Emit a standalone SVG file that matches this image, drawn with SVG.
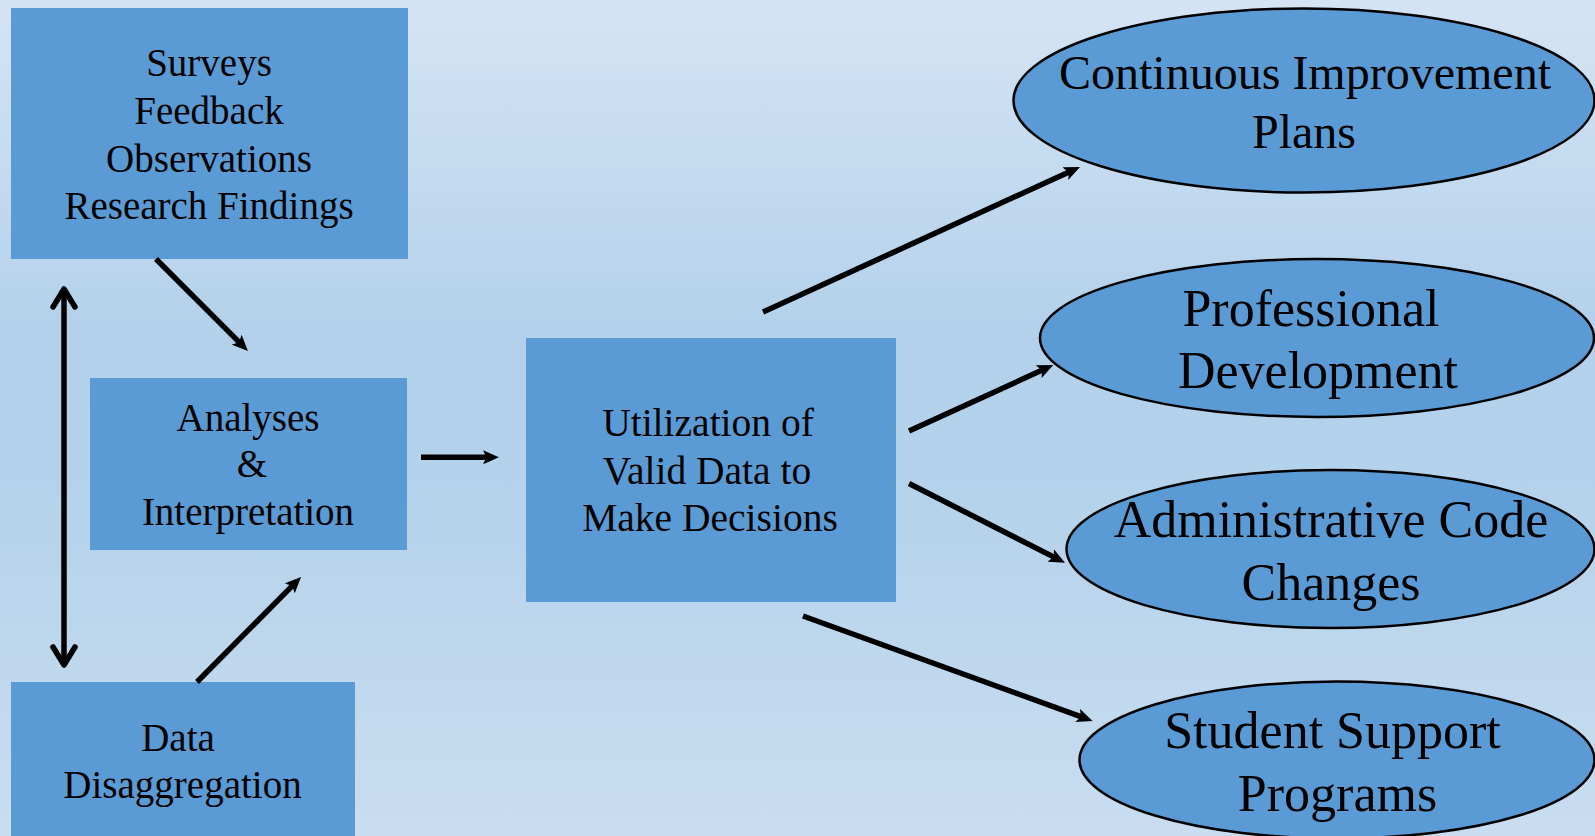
<svg xmlns="http://www.w3.org/2000/svg" width="1595" height="836" viewBox="0 0 1595 836">
  <defs>
    <linearGradient id="bg" x1="0" y1="0" x2="0" y2="1">
      <stop offset="0" stop-color="#D5E4F4"/>
      <stop offset="0.4" stop-color="#B3D1EB"/>
      <stop offset="0.58" stop-color="#B4D2EB"/>
      <stop offset="1" stop-color="#C9DDF0"/>
    </linearGradient>
    <!-- filled narrow arrowhead; tip sits 9px past the line end -->
    <marker id="head" viewBox="0 0 16 14" refX="7" refY="7" markerWidth="16" markerHeight="14" markerUnits="userSpaceOnUse" orient="auto">
      <path d="M0,0 L16,7 L0,14 L3.5,7 z" fill="#000"/>
    </marker>
    <!-- open chevron head for the two-way arrow -->
    <marker id="chevron" viewBox="-24 -16 28 32" refX="0" refY="0" markerWidth="28" markerHeight="32" markerUnits="userSpaceOnUse" orient="auto-start-reverse">
      <path d="M-18,-11 L0,0 L-18,11" fill="none" stroke="#000" stroke-width="5.5" stroke-linecap="round" stroke-linejoin="round"/>
    </marker>
  </defs>
  <style>
    .box { fill: #5B9BD5; }
    .oval { fill: #5B9BD5; stroke: #000; stroke-width: 2.5; }
    text { font-family: "Liberation Serif", "Times New Roman", serif; fill: #000; text-anchor: middle; }
    .s39 { font-size: 39px; }
    .s48 { font-size: 48px; }
    .s52 { font-size: 52px; }
    .link { stroke: #000; stroke-width: 5.5; fill: none; marker-end: url(#head); }
    .both { stroke: #000; stroke-width: 5.5; fill: none; marker-start: url(#chevron); marker-end: url(#chevron); }
  </style>

  <rect x="0" y="0" width="1595" height="836" fill="url(#bg)"/>

  <g id="sources">
    <rect class="box" x="11" y="8" width="397" height="251"/>
    <text class="s39" x="209" y="76">Surveys</text>
    <text class="s39" x="209" y="124">Feedback</text>
    <text class="s39" x="209" y="172">Observations</text>
    <text class="s39" x="209" y="219">Research Findings</text>
  </g>

  <g id="analyses">
    <rect class="box" x="90" y="378" width="317" height="172"/>
    <text class="s39" x="248" y="431">Analyses</text>
    <text class="s39" x="252" y="477">&amp;</text>
    <text class="s39" x="248" y="525">Interpretation</text>
  </g>

  <g id="disaggregation">
    <rect class="box" x="11" y="682" width="344" height="160"/>
    <text class="s39" x="178" y="751">Data</text>
    <text class="s39" x="182.5" y="798">Disaggregation</text>
  </g>

  <g id="utilization">
    <rect class="box" x="526" y="338" width="370" height="264"/>
    <text class="s39" x="708" y="436" style="font-size:39.5px">Utilization of</text>
    <text class="s39" x="707" y="484" style="font-size:39.5px">Valid Data to</text>
    <text class="s39" x="710" y="531" style="font-size:39.5px">Make Decisions</text>
  </g>

  <g id="improvement-plans">
    <ellipse class="oval" cx="1304" cy="100.5" rx="290.5" ry="92"/>
    <text class="s48" x="1305" y="89">Continuous Improvement</text>
    <text class="s48" x="1304" y="148">Plans</text>
  </g>

  <g id="professional-development">
    <ellipse class="oval" cx="1317" cy="338" rx="277" ry="79"/>
    <text class="s52" x="1311" y="326">Professional</text>
    <text class="s52" x="1318" y="388">Development</text>
  </g>

  <g id="code-changes">
    <ellipse class="oval" cx="1330.5" cy="549" rx="264" ry="79"/>
    <text class="s52" x="1331" y="537">Administrative Code</text>
    <text class="s52" x="1331" y="600">Changes</text>
  </g>

  <g id="student-support">
    <ellipse class="oval" cx="1337" cy="760" rx="257.5" ry="78.5"/>
    <text class="s52" x="1332.5" y="748">Student Support</text>
    <text class="s52" x="1337.5" y="811">Programs</text>
  </g>

  <g id="connectors">
    <line class="both" x1="64" y1="289" x2="64" y2="665"/>
    <line class="link" x1="156" y1="259" x2="241.6" y2="344.6"/>
    <line class="link" x1="197" y1="682" x2="294.7" y2="583.4"/>
    <line class="link" x1="421" y1="457.3" x2="490" y2="457.3"/>
    <line class="link" x1="763" y1="312" x2="1071.8" y2="170.7"/>
    <line class="link" x1="909" y1="431" x2="1045.1" y2="368.8"/>
    <line class="link" x1="909" y1="483.5" x2="1057" y2="558.6"/>
    <line class="link" x1="803" y1="616" x2="1084.2" y2="717.9"/>
  </g>
</svg>
